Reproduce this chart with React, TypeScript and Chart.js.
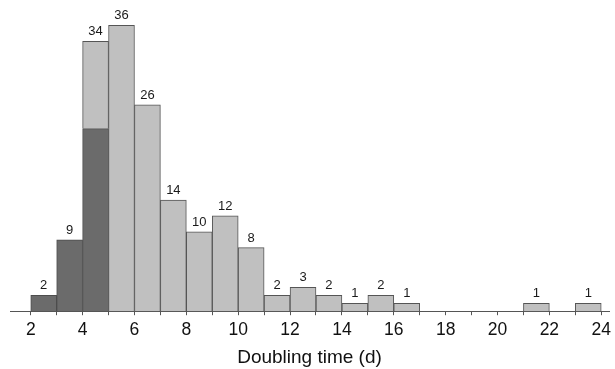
import React, { useEffect, useRef } from "react";
import { Chart, registerables } from "chart.js";

Chart.register(...registerables);

const binStarts = [2, 3, 4, 5, 6, 7, 8, 9, 10, 11, 12, 13, 14, 15, 16, 17, 18, 19, 20, 21, 22, 23];
const darkCounts = [2, 9, 23, 0, 0, 0, 0, 0, 0, 0, 0, 0, 0, 0, 0, 0, 0, 0, 0, 0, 0, 0];
const lightCounts = [0, 0, 11, 36, 26, 14, 10, 12, 8, 2, 3, 2, 1, 2, 1, 0, 0, 0, 0, 1, 0, 1];
const xTickValues = [2, 3, 4, 5, 6, 7, 8, 9, 10, 11, 12, 13, 14, 15, 16, 17, 18, 19, 20, 21, 22, 23, 24];
const xAxisTitle = "Doubling time (d)";

const FONT = "'Liberation Sans', Arial, sans-serif";

const totalsPlugin = {
  id: "totalsLabels",
  afterDatasetsDraw(chart: any) {
    const ctx = chart.ctx;
    const xs = chart.scales.x;
    const ys = chart.scales.y;
    ctx.save();
    ctx.font = `13px ${FONT}`;
    ctx.fillStyle = "#1a1a1a";
    ctx.textAlign = "center";
    ctx.textBaseline = "bottom";
    binStarts.forEach((b, i) => {
      const total = darkCounts[i] + lightCounts[i];
      if (total <= 0) return;
      const px = xs.getPixelForValue(b + 0.5);
      const py = ys.getPixelForValue(total);
      ctx.fillText(String(total), px, py - 3);
    });
    ctx.restore();
  },
};

export default function App() {
  const ref = useRef<HTMLCanvasElement>(null);
  useEffect(() => {
    if (!ref.current) return;
    const chart = new Chart(ref.current, {
      type: "bar",
      data: {
        datasets: [
          {
            label: "dark",
            data: binStarts.map((b, i) => ({ x: b + 0.5, y: darkCounts[i] })),
            backgroundColor: "#6b6b6b",
            borderColor: "#4d4d4d",
            borderWidth: 1,
            categoryPercentage: 1,
            barPercentage: 1,
            stack: "s",
          },
          {
            label: "light",
            data: binStarts.map((b, i) => ({ x: b + 0.5, y: lightCounts[i] })),
            backgroundColor: "#c0c0c0",
            borderColor: "#555555",
            borderWidth: 1,
            categoryPercentage: 1,
            barPercentage: 1,
            stack: "s",
          },
        ],
      },
      options: {
        animation: false,
        responsive: false,
        maintainAspectRatio: false,
        layout: { padding: { left: 10, right: 3, top: 0, bottom: 0 } },
        plugins: { legend: { display: false }, tooltip: { enabled: false } },
        scales: {
          x: {
            type: "linear",
            min: 1.2,
            max: 24.3,
            offset: false,
            stacked: true,
            afterBuildTicks: (scale: any) => {
              scale.ticks = xTickValues.map((v) => ({ value: v }));
            },
            grid: { offset: false, drawOnChartArea: false, drawTicks: true, tickLength: 4, color: "#555", lineWidth: 1 },
            border: { display: true, color: "#555", width: 1 },
            ticks: {
              autoSkip: false,
              maxRotation: 0,
              color: "#111",
              padding: 4,
              font: { family: FONT, size: 17.5 },
              callback: (v: any) => (Number(v) % 2 === 0 ? String(v) : ""),
            },
            title: {
              display: true,
              text: xAxisTitle,
              color: "#111",
              font: { family: FONT, size: 19 },
              padding: { top: 2, bottom: 0 },
            },
          },
          y: {
            display: false,
            stacked: true,
            min: 0,
            max: 39.2,
          },
        },
      },
      plugins: [totalsPlugin],
    });
    return () => chart.destroy();
  }, []);
  return (
    <div style={{ position: "absolute", left: 0, top: 0, width: 615, height: 369, background: "#fff" }}>
      <canvas ref={ref} width={615} height={369} style={{ width: 615, height: 369 }} />
    </div>
  );
}
